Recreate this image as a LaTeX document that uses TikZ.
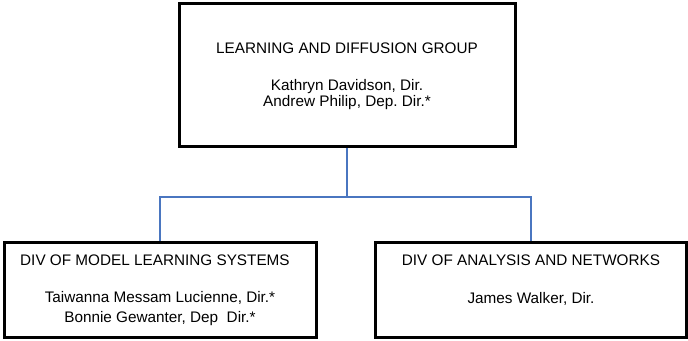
\documentclass[tikz,border=0pt]{standalone}
\usepackage{fontspec}
\setmainfont{Liberation Sans}
\usetikzlibrary{positioning}
\frenchspacing
\definecolor{linkblue}{HTML}{4A76C0}
\tikzset{
    unit/.style={draw=black, line width=3pt, inner sep=0pt},
    label/.style={font=\fontsize{15.3}{17}\selectfont, inner sep=0pt, anchor=base},
    link/.style={draw=linkblue, line width=2.8pt},
}

\begin{document}
\begin{tikzpicture}[x=1pt, y=-1pt]
    \useasboundingbox (0,0) rectangle (688,340);
    % boxes
    \node[unit, minimum width=336pt, minimum height=143pt] (group) at (347,74.5) {};
    \node[unit, minimum width=312pt, minimum height=95pt] (mls) at (160,290) {};
    \node[unit, minimum width=311pt, minimum height=95pt] (ana) at (531,290) {};
    % texts
    \node[label] (groupname) at (347,53) {LEARNING AND DIFFUSION GROUP};
    \node[label] (groupdir) at (347,90) {Kathryn Davidson, Dir.};
    \node[label] (groupdep) at (347,106) {Andrew Philip, Dep. Dir.*};
    \node[label, anchor=base west] (mlsname) at (20,265) {DIV OF MODEL LEARNING SYSTEMS};
    \node[label] (mlsdir) at (160,302) {Taiwanna Messam Lucienne, Dir.*};
    \node[label] (mlsdep) at (160,322) {Bonnie Gewanter, Dep\ \ Dir.*};
    \node[label] (ananame) at (531,265) {DIV OF ANALYSIS AND NETWORKS};
    \node[label] (anadir) at (531,303) {James Walker, Dir.};
    % connectors
    \coordinate (split) at (347,197);
    \draw[link] (group.south) -- (split);
    \draw[link] (split) -| (mls.north);
    \draw[link] (split) -| (ana.north);
\end{tikzpicture}
\end{document}
